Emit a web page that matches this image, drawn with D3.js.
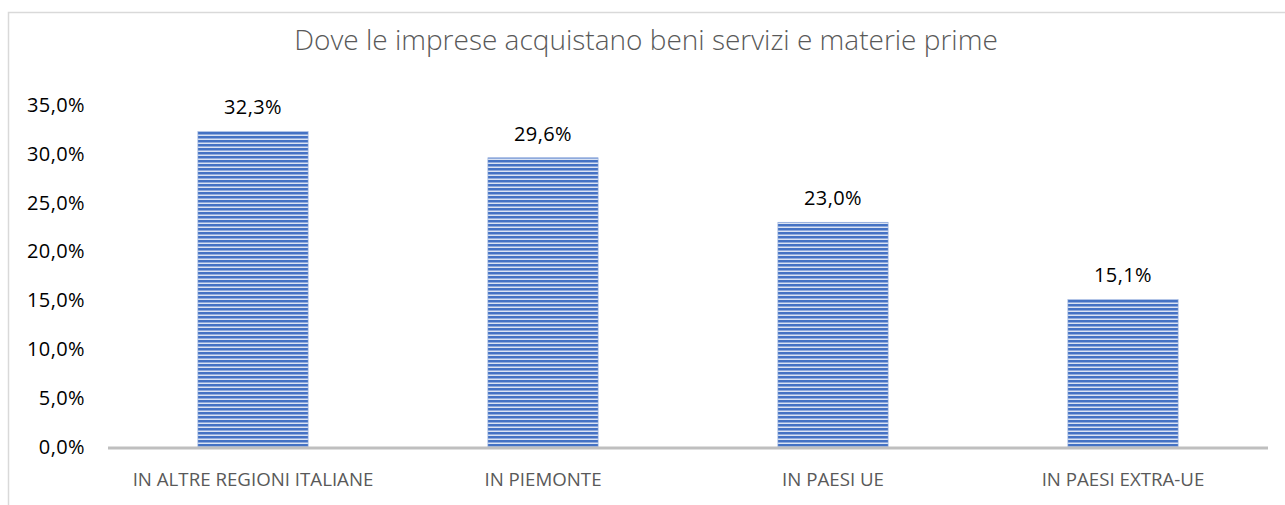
<!DOCTYPE html>
<html>
<head>
<meta charset="utf-8">
<script src="https://cdn.jsdelivr.net/npm/d3@7"></script>
<style>
	body { margin: 0; background: #fff; }
	text { font-family: "Open Sans", sans-serif; }
</style>
</head>
<body>
<div id="chart"></div>
<script>

	//data
	var categories = ["IN ALTRE REGIONI ITALIANE", "IN PIEMONTE", "IN PAESI UE", "IN PAESI EXTRA-UE"];
	var values = [32.3, 29.6, 23.0, 15.1];
	var tickValues = [0, 5, 10, 15, 20, 25, 30, 35];
	var title = "Dove le imprese acquistano beni servizi e materie prime";

	var w = 1285;
	var h = 505;

	var plotLeft = 108;
	var plotRight = 1268;
	var plotTop = 105;
	var plotBottom = 447;

	var fmt = function(v) { return v.toFixed(1).replace(".", ",") + "%"; };

	var svg = d3.select("#chart")
				.append("svg")
				.attr("width", w)
				.attr("height", h);

	//stripe pattern for bars
	var pat = svg.append("defs")
				.append("pattern")
				.attr("id", "stripes")
				.attr("patternUnits", "userSpaceOnUse")
				.attr("width", 8)
				.attr("height", 4);
	pat.append("rect").attr("width", 8).attr("height", 4).attr("fill", "#dae3f3");
	pat.append("rect").attr("y", 0).attr("width", 8).attr("height", 2).attr("fill", "#4472c4");
	pat.append("rect").attr("y", 2).attr("width", 8).attr("height", 1).attr("fill", "#8faadc");

	//frame
	svg.append("path")
	   .attr("d", "M8.5," + h + "V12.5H" + w)
	   .attr("fill", "none")
	   .attr("stroke", "#d9d9d9")
	   .attr("stroke-width", 1.5);

	svg.append("text")
	   .attr("x", 646)
	   .attr("y", 50)
	   .attr("text-anchor", "middle")
	   .attr("font-size", 28)
	   .attr("font-weight", 300)
	   .attr("fill", "#595959")
	   .text(title);

	var x = d3.scaleBand()
			  .domain(categories)
			  .range([plotLeft, plotRight])
			  .paddingInner(0.62)
			  .paddingOuter(0.31);

	var y = d3.scaleLinear()
			  .domain([0, 35])
			  .range([plotBottom, plotTop]);

	//y axis labels, no line
	var yAxis = svg.append("g")
				   .attr("transform", "translate(85,0)")
				   .call(d3.axisLeft(y).tickValues(tickValues).tickSize(0).tickPadding(0).tickFormat(fmt));
	yAxis.select(".domain").remove();
	yAxis.selectAll("text")
		 .attr("font-size", 20)
		 .attr("letter-spacing", 0.4)
		 .attr("fill", "#000")
		 .style("font-family", "'Open Sans', sans-serif");

	//bars
	svg.selectAll("rect.bar")
	   .data(values)
	   .enter()
	   .append("rect")
	   .attr("class", "bar")
	   .attr("x", function(d, i) { return x(categories[i]); })
	   .attr("y", function(d) { return y(d); })
	   .attr("width", x.bandwidth())
	   .attr("height", function(d) { return y(0) - y(d); })
	   .attr("fill", "url(#stripes)")
	   .attr("stroke", "#8faadc")
	   .attr("stroke-width", 0.6);

	//data labels
	svg.selectAll("text.lbl")
	   .data(values)
	   .enter()
	   .append("text")
	   .attr("class", "lbl")
	   .attr("x", function(d, i) { return x(categories[i]) + x.bandwidth() / 2; })
	   .attr("y", function(d) { return y(d) - 17; })
	   .attr("text-anchor", "middle")
	   .attr("font-size", 20)
	   .attr("letter-spacing", 0.4)
	   .attr("fill", "#000")
	   .text(fmt);

	//x axis
	var xAxis = svg.append("g")
				   .attr("transform", "translate(0," + (plotBottom + 1) + ")")
				   .call(d3.axisBottom(x).tickSize(0).tickPadding(25));
	xAxis.select(".domain")
		 .attr("stroke", "#bfbfbf")
		 .attr("stroke-width", 3)
		 .attr("d", "M" + plotLeft + ",0H" + plotRight);
	xAxis.selectAll("text")
		 .attr("font-size", 18.7)
		 .attr("fill", "#595959")
		 .style("font-family", "'Open Sans', sans-serif");

</script>
</body>
</html>
